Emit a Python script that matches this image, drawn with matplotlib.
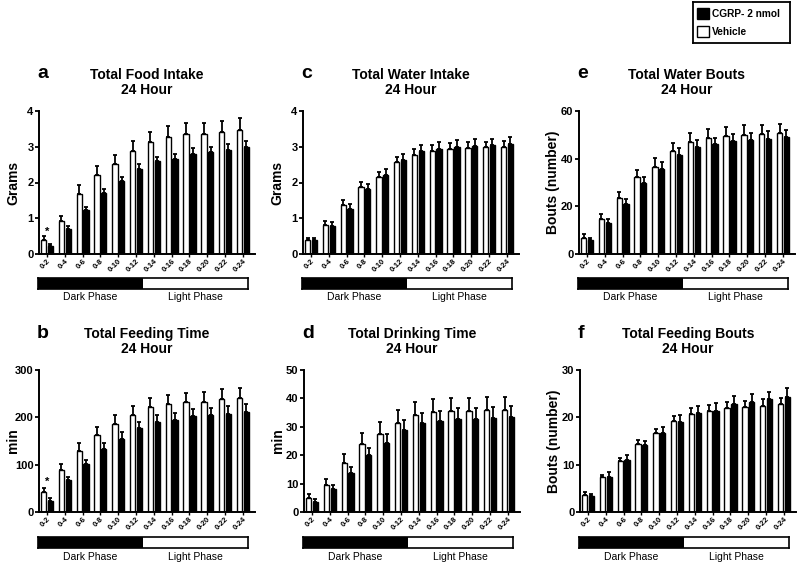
import numpy as np
import matplotlib
matplotlib.use("Agg")
from matplotlib import pyplot as plt
from matplotlib.patches import Rectangle

plt.rcParams['font.family'] = ['Liberation Sans', 'DejaVu Sans']

bins = ['0-2', '0-4', '0-6', '0-8', '0-10', '0-12', '0-14', '0-16', '0-18', '0-20', '0-22', '0-24']

# a: total food intake (g)
food_veh = [0.40, 0.93, 1.68, 2.20, 2.52, 2.89, 3.14, 3.27, 3.36, 3.37, 3.40, 3.47]
food_veh_err = [0.11, 0.14, 0.24, 0.25, 0.25, 0.27, 0.28, 0.31, 0.31, 0.30, 0.33, 0.33]
food_cgrp = [0.21, 0.70, 1.22, 1.70, 2.05, 2.39, 2.59, 2.66, 2.80, 2.84, 2.90, 2.98]
food_cgrp_err = [0.07, 0.09, 0.10, 0.11, 0.10, 0.12, 0.13, 0.13, 0.16, 0.16, 0.18, 0.18]

# b: total feeding time (min)
ftime_veh = [42, 89, 129, 163, 186, 204, 221, 228, 232, 233, 238, 240]
ftime_veh_err = [9, 13, 16, 16, 18, 19, 19, 19, 19, 20, 21, 21]
ftime_cgrp = [24, 67, 102, 134, 155, 177, 190, 195, 203, 204, 207, 211]
ftime_cgrp_err = [5, 7, 8, 11, 14, 13, 15, 14, 15, 15, 16, 17]

# c: total water intake (g)
water_veh = [0.39, 0.81, 1.38, 1.87, 2.14, 2.56, 2.78, 2.89, 2.95, 2.97, 2.98, 3.00]
water_veh_err = [0.07, 0.12, 0.12, 0.14, 0.15, 0.15, 0.16, 0.15, 0.16, 0.16, 0.16, 0.17]
water_cgrp = [0.38, 0.77, 1.27, 1.83, 2.20, 2.62, 2.88, 2.94, 3.00, 3.01, 3.04, 3.08]
water_cgrp_err = [0.07, 0.12, 0.13, 0.14, 0.18, 0.18, 0.17, 0.19, 0.20, 0.20, 0.19, 0.20]

# d: total drinking time (min)
dtime_veh = [4.9, 9.6, 17.4, 24.0, 27.5, 31.5, 34.2, 35.2, 35.7, 35.7, 35.9, 35.9]
dtime_veh_err = [1.3, 2.0, 3.0, 3.8, 4.1, 4.4, 4.4, 4.6, 4.6, 4.6, 4.6, 4.6]
dtime_cgrp = [3.6, 8.2, 13.8, 20.0, 24.4, 28.9, 31.3, 32.0, 32.8, 32.8, 33.1, 33.4]
dtime_cgrp_err = [1.0, 1.3, 1.9, 2.6, 3.0, 3.5, 3.6, 3.6, 3.7, 3.9, 3.8, 4.0]

# e: total water bouts
wbouts_veh = [6.7, 14.5, 23.4, 32.1, 36.7, 43.1, 47.0, 48.7, 49.7, 50.1, 50.5, 50.9]
wbouts_veh_err = [1.7, 2.1, 2.8, 3.2, 3.5, 3.6, 3.6, 3.7, 3.7, 3.9, 3.8, 3.8]
wbouts_cgrp = [5.9, 12.8, 20.9, 29.7, 35.6, 41.6, 45.0, 46.0, 47.4, 48.0, 48.4, 49.0]
wbouts_cgrp_err = [0.9, 1.7, 2.1, 2.7, 2.8, 2.9, 3.0, 2.8, 3.1, 2.9, 3.1, 3.0]

# f: total feeding bouts
fbouts_veh = [3.65, 7.3, 10.7, 14.4, 16.7, 19.2, 20.7, 21.4, 21.9, 22.2, 22.5, 22.8]
fbouts_veh_err = [0.5, 0.6, 0.8, 0.8, 0.9, 1.0, 1.2, 1.2, 1.3, 1.3, 1.3, 1.3]
fbouts_cgrp = [3.37, 7.5, 11.0, 14.1, 16.7, 19.0, 20.9, 21.4, 22.8, 23.3, 23.8, 24.4]
fbouts_cgrp_err = [0.5, 0.9, 1.0, 1.0, 1.2, 1.4, 1.4, 1.6, 1.7, 1.6, 1.6, 1.7]

W, H = 800, 564
fig = plt.figure(figsize=(W / 100, H / 100), dpi=100)


def px_axes(x0, y0, x1, y1):
    # pixel box (top-left origin) -> figure axes
    return fig.add_axes([x0 / W, 1 - y1 / H, (x1 - x0) / W, (y1 - y0) / H])


panels = [
    # letter, title, ylabel, veh, veh_err, cgrp, cgrp_err, ymax, step, col_x, row, star
    ('a', 'Total Food Intake', 'Grams', food_veh, food_veh_err, food_cgrp, food_cgrp_err, 4, 1, 39, 0, 0.62),
    ('b', 'Total Feeding Time', 'min', ftime_veh, ftime_veh_err, ftime_cgrp, ftime_cgrp_err, 300, 100, 39, 1, 64),
    ('c', 'Total Water Intake', 'Grams', water_veh, water_veh_err, water_cgrp, water_cgrp_err, 4, 1, 303, 0, None),
    ('d', 'Total Drinking Time', 'min', dtime_veh, dtime_veh_err, dtime_cgrp, dtime_cgrp_err, 50, 10, 304, 1, None),
    ('e', 'Total Water Bouts', 'Bouts (number)', wbouts_veh, wbouts_veh_err, wbouts_cgrp, wbouts_cgrp_err, 60, 20, 579, 0, None),
    ('f', 'Total Feeding Bouts', 'Bouts (number)', fbouts_veh, fbouts_veh_err, fbouts_cgrp, fbouts_cgrp_err, 30, 10, 580, 1, None),
]

rows = [dict(top=111, bot=254, bar0=278, bar1=289, lab=74, txt=297),
        dict(top=370, bot=512, bar0=537, bar1=548, lab=334, txt=557)]

x = np.arange(len(bins))
bw = 0.3
off = 0.19
AW = 216

for letter, title, ylab, veh, veh_e, cg, cg_e, ymax, step, cx, r, star in panels:
    R = rows[r]
    ax = px_axes(cx, R['top'], cx + AW, R['bot'])
    ax.bar(x - off, veh, bw, color='white', edgecolor='black', linewidth=1.0, zorder=2)
    ax.bar(x + off, cg, bw, color='black', edgecolor='black', linewidth=1.0, zorder=2)
    ax.errorbar(x - off, veh, yerr=[np.zeros(len(veh)), veh_e], fmt='none',
                ecolor='black', elinewidth=1.3, capsize=1.5, capthick=1.3, zorder=3)
    ax.errorbar(x + off, cg, yerr=[np.zeros(len(cg)), cg_e], fmt='none',
                ecolor='black', elinewidth=1.3, capsize=1.5, capthick=1.3, zorder=3)
    if star is not None:
        ax.text(0, star, '*', ha='center', va='center', fontsize=8, fontweight='bold')
    ax.set_xlim(-0.45, 11.68)
    ax.set_ylim(0, ymax)
    ax.set_yticks(np.arange(0, ymax + step / 2, step))
    ax.set_xticks(x)
    ax.set_xticklabels(bins, rotation=45, ha='right', rotation_mode='anchor',
                       fontsize=5.5, fontweight='bold')
    for lbl in ax.get_yticklabels():
        lbl.set_fontweight('bold')
    ax.tick_params(axis='y', labelsize=8, width=1.3, length=3, pad=1)
    ax.tick_params(axis='x', width=1.0, length=2, pad=1)
    for s in ['top', 'right']:
        ax.spines[s].set_visible(False)
    for s in ['left', 'bottom']:
        ax.spines[s].set_linewidth(1.4)
    ax.set_ylabel(ylab, fontsize=10, fontweight='bold')
    ax.yaxis.set_label_coords(-19 / AW, 0.5)
    ax.set_title(title + '\n24 Hour', fontsize=10, fontweight='bold', pad=12, linespacing=1.15)

    fig.text((cx - 2) / W, 1 - R['lab'] / H, letter, fontsize=14, fontweight='bold',
             ha='left', va='center')

    # light/dark phase bar
    pax = px_axes(cx - 1, R['bar0'], cx + 209, R['bar1'])
    pax.add_patch(Rectangle((0, 0), 0.5, 1, facecolor='black', edgecolor='none'))
    pax.add_patch(Rectangle((0.5, 0), 0.5, 1, facecolor='white', edgecolor='none'))
    pax.set_xlim(0, 1)
    pax.set_ylim(0, 1)
    pax.set_xticks([])
    pax.set_yticks([])
    for s in pax.spines.values():
        s.set_linewidth(1.2)
    fig.text((cx - 1 + 52) / W, 1 - R['txt'] / H, 'Dark Phase', ha='center', va='center',
             fontsize=7.5)
    fig.text((cx - 1 + 157) / W, 1 - R['txt'] / H, 'Light Phase', ha='center', va='center',
             fontsize=7.5)

# legend box
lax = px_axes(693, 2, 790, 43)
lax.set_xlim(0, 97)
lax.set_ylim(41, 0)
lax.set_xticks([])
lax.set_yticks([])
for s in lax.spines.values():
    s.set_linewidth(1.3)
lax.add_patch(Rectangle((4, 6), 12, 11, facecolor='black', edgecolor='black', linewidth=1))
lax.add_patch(Rectangle((4, 24), 12, 11, facecolor='white', edgecolor='black', linewidth=1))
lax.text(19, 12, 'CGRP- 2 nmol', fontsize=7.3, fontweight='bold', va='center', ha='left')
lax.text(19, 30, 'Vehicle', fontsize=7.3, fontweight='bold', va='center', ha='left')

fig.savefig('out.png', dpi=100)
